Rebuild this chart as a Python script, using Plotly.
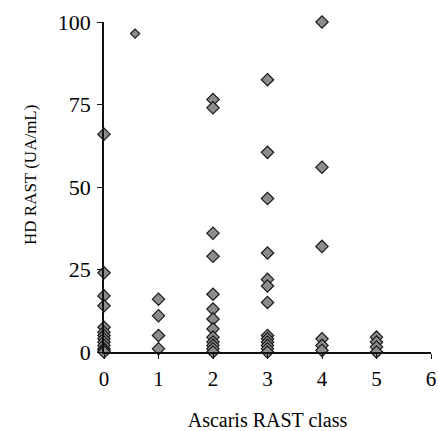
import plotly.graph_objects as go

# Ascaris RAST class (x) vs HD RAST (y)
class0 = [66, 24, 17, 14, 7.5, 6, 5, 4, 3, 2, 1, 0.5, 0]
class1 = [16, 11, 5, 1]
class2 = [76.5, 74, 36, 29, 17.5, 13, 10, 7, 4.5, 3, 2, 1, 0]
class3 = [82.5, 60.5, 46.5, 30, 22, 20, 15, 5, 4, 3, 2, 1, 0]
class4 = [100, 56, 32, 4, 2, 0.5]
class5 = [4.5, 3, 1.5, 0]
stray_x = [0.57]
stray_y = [96.5]

groups = [(0, class0), (1, class1), (2, class2), (3, class3), (4, class4), (5, class5)]
xs, ys = [], []
for cls, vals in groups:
    xs += [cls] * len(vals)
    ys += vals

x_ticks = [0, 1, 2, 3, 4, 5, 6]
y_ticks = [0, 25, 50, 75, 100]

fig = go.Figure()
fig.add_trace(go.Scatter(
    x=xs, y=ys, mode="markers", cliponaxis=False,
    marker=dict(symbol="diamond", size=9.5, color="#8c8c8c",
                line=dict(color="#1a1a1a", width=1.2)),
    showlegend=False,
))
fig.add_trace(go.Scatter(
    x=stray_x, y=stray_y, mode="markers", cliponaxis=False,
    marker=dict(symbol="diamond", size=7, color="#8c8c8c",
                line=dict(color="#1a1a1a", width=1.2)),
    showlegend=False,
))

font_family = "Liberation Serif, Times New Roman, serif"
fig.update_layout(
    width=438, height=431,
    margin=dict(l=104, r=7, t=22, b=79),
    paper_bgcolor="white", plot_bgcolor="white",
    font=dict(family=font_family, color="#000000", size=20),
    xaxis=dict(range=[0, 6], tickvals=x_ticks, ticks="outside", ticklen=5,
               tickcolor="#111", showline=True, linecolor="#111", linewidth=1.5,
               showgrid=False, zeroline=False, tickfont=dict(size=21, color="#000"),
               ticklabelstandoff=2, automargin=False,
               title=dict(text="Ascaris RAST class", font=dict(size=20, color="#000"), standoff=24)),
    yaxis=dict(range=[0, 100], tickvals=y_ticks, ticks="outside", ticklen=5,
               tickcolor="#111", showline=True, linecolor="#111", linewidth=1.5,
               showgrid=False, zeroline=False, tickfont=dict(size=22, color="#000"),
               ticklabelstandoff=2, automargin=False),
    annotations=[dict(text="HD RAST (UA/mL)", xref="paper", yref="paper",
                      x=-(104 - 30) / 327, y=(352 - 175) / 330, textangle=-90,
                      showarrow=False, xanchor="center", yanchor="middle",
                      font=dict(size=17, color="#000"))],
)

fig.write_html("out.html")
